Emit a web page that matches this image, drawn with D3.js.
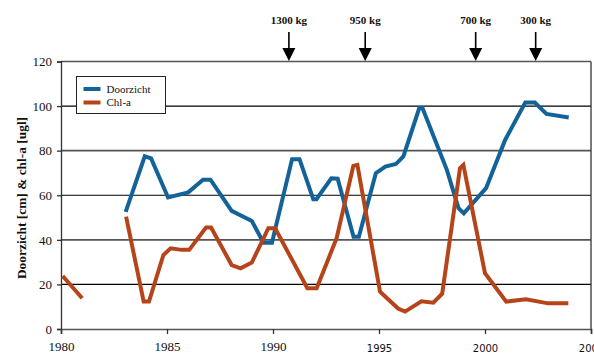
<!DOCTYPE html>
<html>
<head>
<meta charset="utf-8">
<script src="https://cdn.jsdelivr.net/npm/d3@7"></script>
<style>
  body { margin: 0; background: #fff; }
  svg { display: block; }
</style>
</head>
<body>
<svg id="chart" width="594" height="353"></svg>
<script>
// Doorzicht (cm), [year, value]
const doorzicht = [
  [1983.05, 52.5], [1983.95, 77.5], [1984.25, 76.5], [1985.05, 59], [1986.0, 61.3],
  [1986.7, 67], [1987.05, 67], [1988.05, 53], [1989.0, 48.5], [1989.55, 38.7],
  [1989.95, 38.7], [1990.9, 76.2], [1991.25, 76.2], [1991.9, 58.2], [1992.05, 58.2],
  [1992.75, 67.6], [1993.05, 67.4], [1993.8, 41.4], [1994.05, 41.4], [1994.85, 69.9],
  [1995.3, 72.9], [1995.8, 74], [1996.15, 77.4], [1996.9, 99.1], [1997.05, 99.1],
  [1998.2, 71.4], [1998.75, 54.2], [1999.0, 51.9], [2000.05, 63.2], [2000.95, 84.8],
  [2001.9, 101.6], [2002.35, 101.6], [2002.9, 96.5], [2003.95, 94.9]
];
// Chl-a (ugl); null = gap
const chla = [
  [1980.08, 23.8], [1981.0, 13.8], [1982.0, null],
  [1983.07, 50.4], [1983.9, 12.3], [1984.15, 12.3], [1984.83, 33.2], [1985.17, 36.2],
  [1985.7, 35.5], [1986.05, 35.5], [1986.84, 45.5], [1987.08, 45.5], [1988.05, 28.7],
  [1988.47, 27.2], [1989.0, 29.8], [1989.78, 45.2], [1990.1, 45.2], [1991.62, 18.3],
  [1992.06, 18.3], [1993.0, 40.7], [1993.79, 73.2], [1993.98, 73.6], [1995.05, 16.7],
  [1995.9, 9.2], [1996.23, 7.8], [1997.0, 12.4], [1997.56, 11.8], [1997.98, 15.8],
  [1998.82, 72.1], [1998.98, 73.6], [2000.0, 25.0], [2001.0, 12.3], [2001.93, 13.3],
  [2002.98, 11.5], [2003.93, 11.5]
];
const xTicks = [1980, 1985, 1990, 1995, 2000, 2005];
const yTicks = [0, 20, 40, 60, 80, 100, 120];
const arrows = [
  {year: 1990.75, label: "1300 kg"},
  {year: 1994.35, label: "950 kg"},
  {year: 1999.56, label: "700 kg"},
  {year: 2002.39, label: "300 kg"}
];
const series = [
  {name: "Doorzicht", color: "#136399", data: doorzicht},
  {name: "Chl-a", color: "#b5441b", data: chla}
];

const svg = d3.select("#chart");
const x = d3.scaleLinear().domain([1980, 2005]).range([61, 591]);
const y = d3.scaleLinear().domain([0, 120]).range([329, 61.5]);
const serif = "'Liberation Serif', 'Times New Roman', serif";

// gridlines
svg.append("g").selectAll("line")
  .data(yTicks.filter(d => d > 0))
  .join("line")
  .attr("x1", x(1980)).attr("x2", x(2005))
  .attr("y1", d => y(d)).attr("y2", d => y(d))
  .attr("stroke", d => d % 40 === 0 ? "#555" : "#000")
  .attr("stroke-width", d => d % 40 === 0 ? 1.6 : 1.1);

// right border
svg.append("line")
  .attr("x1", x(2005)).attr("x2", x(2005))
  .attr("y1", y(120)).attr("y2", y(0))
  .attr("stroke", "#333").attr("stroke-width", 1.3);

// y axis
const yAxis = svg.append("g")
  .attr("transform", `translate(${x(1980)},0)`)
  .call(d3.axisLeft(y).tickValues(yTicks).tickSize(4).tickPadding(5));
yAxis.select(".domain").attr("stroke", "#333").attr("stroke-width", 1.3);
yAxis.selectAll(".tick line").attr("stroke", "#333").attr("stroke-width", 1.3);
yAxis.selectAll("text").attr("font-family", serif).attr("font-size", 13).attr("fill", "#111");

// x axis
const xAxis = svg.append("g")
  .attr("transform", `translate(0,${y(0)})`)
  .call(d3.axisBottom(x).tickValues(xTicks).tickFormat(d3.format("d")).tickSize(5).tickPadding(8));
xAxis.select(".domain").attr("stroke", "#555").attr("stroke-width", 1.6);
xAxis.selectAll(".tick line").attr("stroke", "#333").attr("stroke-width", 1.3);
xAxis.selectAll("text")
  .attr("font-family", d => d >= 1995 ? "'DejaVu Sans', Verdana, sans-serif" : serif)
  .attr("font-size", d => d >= 1995 ? 10 : 13)
  .attr("dy", d => d >= 1995 ? "0.95em" : "0.71em")
  .attr("fill", "#111");

// y label
svg.append("text")
  .attr("transform", `translate(25.5,${198}) rotate(-90)`)
  .attr("text-anchor", "middle")
  .attr("font-family", serif).attr("font-weight", "bold").attr("font-size", 13.4)
  .attr("fill", "#111")
  .text("Doorzicht [cm] & chl-a [ugl]");

// lines
const line = d3.line()
  .defined(d => d[1] !== null)
  .x(d => x(d[0])).y(d => y(d[1]));
svg.append("g").selectAll("path")
  .data(series)
  .join("path")
  .attr("d", d => line(d.data))
  .attr("fill", "none")
  .attr("stroke", d => d.color)
  .attr("stroke-width", 4);

// arrows
const arr = svg.append("g").selectAll("g")
  .data(arrows)
  .join("g")
  .attr("transform", d => `translate(${x(d.year)},0)`);
arr.append("text")
  .attr("y", 23.5).attr("text-anchor", "middle")
  .attr("font-family", serif).attr("font-weight", "bold").attr("font-size", 11)
  .attr("fill", "#111")
  .text(d => d.label);
arr.append("line")
  .attr("x1", 0).attr("x2", 0).attr("y1", 32).attr("y2", 50)
  .attr("stroke", "#000").attr("stroke-width", 1.6);
arr.append("path")
  .attr("d", "M-6.5,48L6.5,48L0,61Z")
  .attr("fill", "#000");

// legend
const legend = svg.append("g");
legend.append("rect")
  .attr("x", 76.5).attr("y", 76.5).attr("width", 89).attr("height", 37)
  .attr("fill", "#fff").attr("stroke", "#222").attr("stroke-width", 1);
const li = legend.selectAll("g.item")
  .data(series)
  .join("g")
  .attr("transform", (d, i) => `translate(0,${89 + i * 13.5})`);
li.append("line")
  .attr("x1", 83.5).attr("x2", 100.5)
  .attr("stroke", d => d.color).attr("stroke-width", 4);
li.append("text")
  .attr("x", 106.5).attr("y", 3.8)
  .attr("font-family", serif).attr("font-size", 11).attr("fill", "#111")
  .text(d => d.name);
</script>
</body>
</html>
